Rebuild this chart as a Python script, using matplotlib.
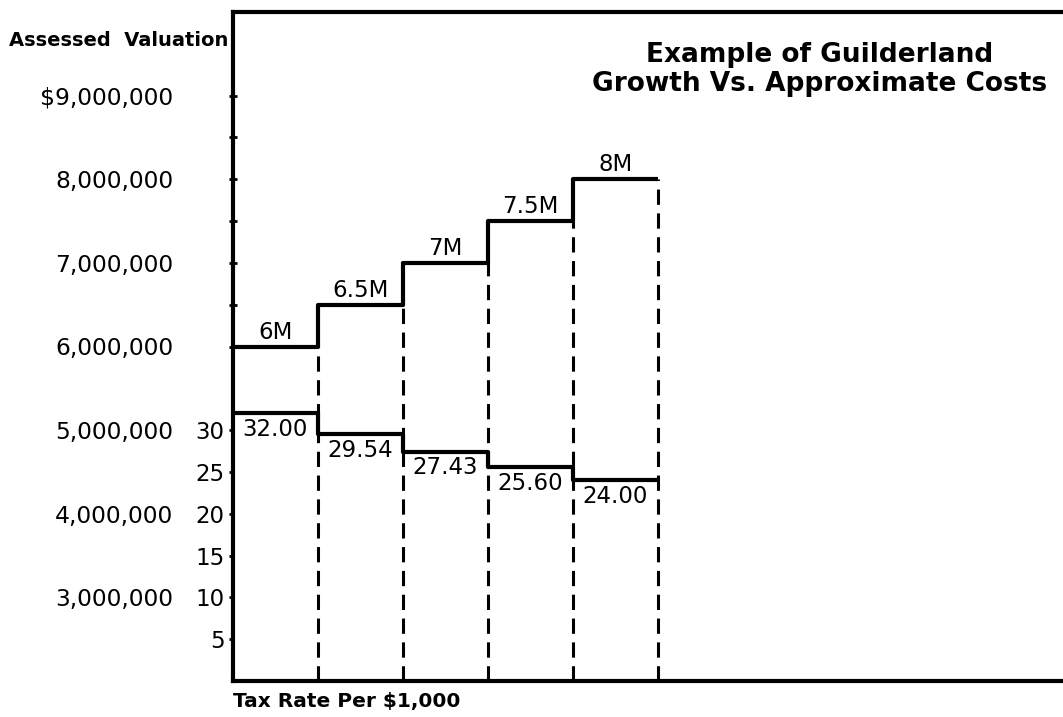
import numpy as np
import matplotlib
matplotlib.use("Agg")
import matplotlib.pyplot as plt

# values
valuation = [6.0, 6.5, 7.0, 7.5, 8.0]          # millions of dollars
valuation_text = ["6M", "6.5M", "7M", "7.5M", "8M"]
tax_rate = [32.00, 29.54, 27.43, 25.60, 24.00]  # per $1,000
val_ticks = [3, 4, 5, 6, 7, 8, 9]
val_tick_labels = ["3,000,000", "4,000,000", "5,000,000", "6,000,000",
                   "7,000,000", "8,000,000", r"\$9,000,000"]
val_minor = [6.0, 6.5, 7.0, 7.5, 8.0, 8.5, 9.0]
tax_ticks = [5, 10, 15, 20, 25, 30]

plt.rcParams['font.family'] = ['DejaVu Sans']
FS = 16.5
LW = 3.0

fig = plt.figure(figsize=(10.63, 7.17), dpi=100)
ax = fig.add_axes([233 / 1063, 36 / 717, 830 / 1063, 669 / 717])
ax2 = ax.twinx()

edges = np.arange(len(valuation) + 1)

# tax rate on the inner scale
ax.set_ylim(0, 80)
ax.set_xlim(0, 830 / 85)
ax.step(edges, tax_rate + [tax_rate[-1]], where='post', color='black',
        lw=LW, solid_capstyle='butt', zorder=3)

# valuation on the outer scale
ax2.set_ylim(2, 10)
ax2.set_xlim(0, 830 / 85)
ax2.step(edges, valuation + [valuation[-1]], where='post', color='black',
         lw=LW, solid_capstyle='butt', zorder=3)

# dashed drop lines at each step boundary
for i in range(1, len(edges)):
    low = min(valuation[i - 1], valuation[min(i, len(valuation) - 1)])
    ax2.vlines(edges[i], 2, low, colors='black', lw=2.2,
               linestyles=(0, (5, 2.8)), zorder=2)

for i, (v, t) in enumerate(zip(valuation, valuation_text)):
    ax2.annotate(t, (edges[i] + 0.5, v), xytext=(0, 2), textcoords='offset points',
                 ha='center', va='bottom', fontsize=FS)
for i, r in enumerate(tax_rate):
    ax.annotate(f"{r:.2f}", (edges[i], r), xytext=(6.5, -3.5), textcoords='offset points',
                ha='left', va='top', fontsize=FS)

# axes styling
for side in ['left', 'top', 'bottom']:
    ax.spines[side].set_linewidth(LW)
ax.spines['right'].set_visible(False)
for s in ax2.spines.values():
    s.set_visible(False)

ax.set_xticks([])
ax2.set_xticks([])

ax.set_yticks(tax_ticks)
ax.set_yticklabels([str(t) for t in tax_ticks])
ax.tick_params(axis='y', direction='out', length=3, width=2, pad=3, labelsize=FS)

ax2.yaxis.remove_overlapping_locs = False
ax2.yaxis.set_ticks_position('left')
ax2.yaxis.set_label_position('left')
ax2.set_yticks(val_ticks)
ax2.set_yticklabels(val_tick_labels)
ax2.set_yticks(val_minor, minor=True)
ax2.tick_params(axis='y', which='major', length=0, pad=43, labelsize=16.8)
ax2.tick_params(axis='y', which='minor', direction='inout', length=6, width=2)

fig.text(228 / 1063, 1 - 40 / 717, "Assessed  Valuation", ha='right', va='center',
         fontsize=14, fontweight='semibold')
fig.text(233 / 1063, 1 - 702 / 717, r"Tax Rate Per \$1,000", ha='left', va='center',
         fontsize=14.5, fontweight='semibold')
fig.text(820 / 1063, 1 - 55 / 717, "Example of Guilderland", ha='center', va='center',
         fontsize=19, fontweight='heavy')
fig.text(820 / 1063, 1 - 84 / 717, "Growth Vs. Approximate Costs", ha='center', va='center',
         fontsize=19, fontweight='heavy')

fig.savefig("out.png", dpi=100)
